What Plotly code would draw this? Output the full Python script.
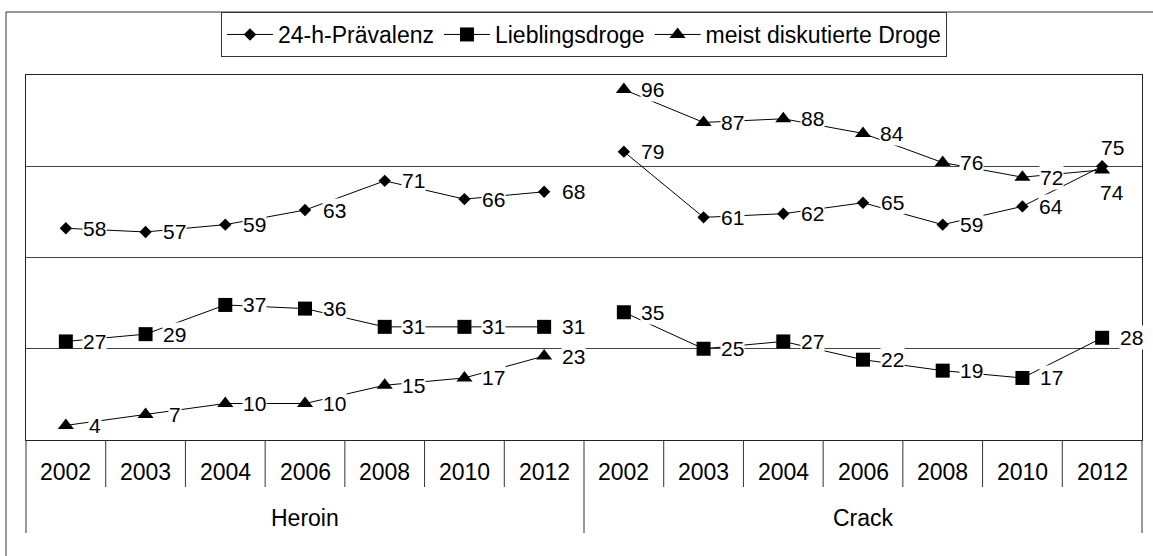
import plotly.graph_objects as go

# ---- data ----
years = ["2002", "2003", "2004", "2006", "2008", "2010", "2012"]
groups = ["Heroin", "Crack"]
series_names = ["24-h-Prävalenz", "Lieblingsdroge", "meist diskutierte Droge"]

heroin_praevalenz = [58, 57, 59, 63, 71, 66, 68]
heroin_liebling = [27, 29, 37, 36, 31, 31, 31]
heroin_diskutiert = [4, 7, 10, 10, 15, 17, 23]

crack_praevalenz = [79, 61, 62, 65, 59, 64, 75]
crack_liebling = [35, 25, 27, 22, 19, 17, 28]
crack_diskutiert = [96, 87, 88, 84, 76, 72, 74]

# ---- styling ----
FONT = "Liberation Sans, Arial, Helvetica, sans-serif"
W, H = 1153, 556
L, R, T, B = 26, 11, 75, 116
PW, PH = W - L - R, H - T - B

symbols = ["diamond", "square", "triangle-up"]
msizes = [9.5, 14, 14]
heroin_sets = [heroin_praevalenz, heroin_liebling, heroin_diskutiert]
crack_sets = [crack_praevalenz, crack_liebling, crack_diskutiert]

n = len(years)
xh = list(range(n))
xc = list(range(n, 2 * n))

fig = go.Figure()
annotations = []

# special label placements (series index, category index) -> (xshift, yshift)
special = {(0, 2 * n - 1): (10, 19), (2, 2 * n - 1): (10, -23)}

for si, name in enumerate(series_names):
    xs = xh + [n - 0.5] + xc
    ys = heroin_sets[si] + [None] + crack_sets[si]
    fig.add_trace(go.Scatter(
        x=xs, y=ys, name=name, mode="lines+markers",
        line=dict(color="black", width=1),
        marker=dict(symbol=symbols[si], size=msizes[si], color="black"),
        connectgaps=False,
    ))
    for xi, yv in zip(xh + xc, heroin_sets[si] + crack_sets[si]):
        dx, dy = special.get((si, xi), (29, 0))
        annotations.append(dict(
            x=xi, y=yv, xref="x", yref="y", text=str(yv), showarrow=False,
            xanchor="center", yanchor="middle", xshift=dx, yshift=dy,
            bgcolor="white", borderpad=0,
            font=dict(family=FONT, size=21, color="black"),
        ))

def px_to_paper_y(py):
    return (T + PH - py) / PH

def px_to_paper_x(px):
    return (px - L) / PW

# category labels (years) and group labels
all_years = years + years
for i, yr in enumerate(all_years):
    annotations.append(dict(
        x=i, xref="x", y=px_to_paper_y(472), yref="paper", text=yr,
        showarrow=False, xanchor="center", yanchor="middle",
        font=dict(family=FONT, size=23, color="black"),
    ))
for gi, g in enumerate(groups):
    annotations.append(dict(
        x=gi * n + (n - 1) / 2, xref="x", y=px_to_paper_y(518), yref="paper",
        text=g, showarrow=False, xanchor="center", yanchor="middle",
        font=dict(family=FONT, size=23, color="black"),
    ))

shapes = []
ncat = 2 * n
# year separators
for k in range(ncat - 1):
    if k == n - 1:
        continue
    xp = (k + 1) / ncat
    shapes.append(dict(type="line", xref="paper", yref="paper",
                       x0=xp, x1=xp, y0=0, y1=px_to_paper_y(487),
                       line=dict(color="#333", width=1)))
# group separators
for xp in [0, 0.5, 1]:
    shapes.append(dict(type="line", xref="paper", yref="paper",
                       x0=xp, x1=xp, y0=0, y1=px_to_paper_y(533),
                       line=dict(color="#333", width=1)))
# outer frame
shapes.append(dict(type="rect", xref="paper", yref="paper",
                   x0=px_to_paper_x(6), x1=px_to_paper_x(1170),
                   y0=px_to_paper_y(575), y1=px_to_paper_y(12),
                   line=dict(color="#333", width=1), fillcolor="rgba(0,0,0,0)",
                   layer="below"))

fig.update_layout(
    width=W, height=H, autosize=False,
    margin=dict(l=L, r=R, t=T, b=B),
    paper_bgcolor="white", plot_bgcolor="white",
    font=dict(family=FONT, color="black"),
    showlegend=True,
    legend=dict(
        orientation="h", x=0.5, xanchor="center",
        y=1 + (T - 12) / PH, yanchor="top",
        bordercolor="#333", borderwidth=1, bgcolor="white",
        font=dict(family=FONT, size=23, color="black"),
        itemwidth=46,
    ),
    xaxis=dict(range=[-0.5, ncat - 0.5], showgrid=False, zeroline=False,
               showticklabels=False, ticks="", showline=True, mirror=True,
               linecolor="#222", linewidth=1, fixedrange=True),
    yaxis=dict(range=[0, 100], dtick=25, tick0=0, showgrid=True,
               gridcolor="#444", gridwidth=1, zeroline=False,
               showticklabels=False, ticks="", showline=True, mirror=True,
               linecolor="#222", linewidth=1, fixedrange=True),
    annotations=annotations,
    shapes=shapes,
)

fig.write_html(
    "out.html",
    config={"displayModeBar": False},
    post_script="document.body.style.margin='0';document.body.style.overflow='hidden';",
)
